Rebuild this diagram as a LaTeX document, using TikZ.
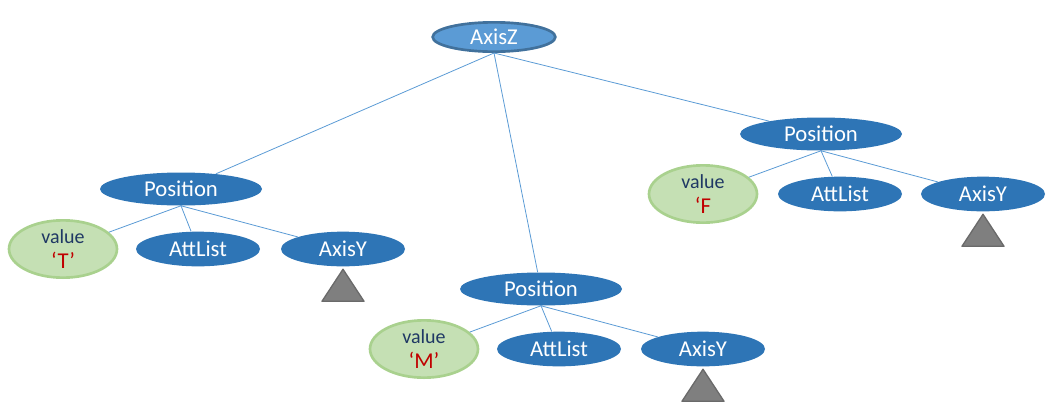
\documentclass[tikz,border=0pt]{standalone}
\usepackage{fontspec}
\setmainfont{Carlito}
\usetikzlibrary{shapes.geometric}
\definecolor{nodeblue}{HTML}{2E75B6}
\definecolor{rootblue}{HTML}{5B9BD5}
\definecolor{rootedge}{HTML}{41719C}
\definecolor{valgreen}{HTML}{C5E0B4}
\definecolor{valedge}{HTML}{A9D18E}
\definecolor{valtext}{HTML}{1F3864}
\definecolor{valred}{HTML}{C00000}
\definecolor{subgray}{HTML}{7F7F7F}
\definecolor{subedge}{HTML}{6A6A6A}
\begin{document}
\begin{tikzpicture}[x=0.75pt, y=-0.75pt,
  tnode/.style={ellipse, fill=nodeblue, text=white, inner sep=0pt,
    font=\fontsize{17}{20}\selectfont},
  root/.style={tnode, fill=rootblue, draw=rootedge, line width=2pt,
    minimum width=92pt, minimum height=22pt},
  posnode/.style={tnode, minimum width=121.5pt, minimum height=24.75pt},
  leaf/.style={tnode, minimum width=93pt, minimum height=26pt},
  valnode/.style={ellipse, fill=valgreen, draw=valedge, line width=2pt,
    inner sep=0pt, align=center, text=valtext,
    font=\fontsize{15}{19}\selectfont,
    minimum width=81pt, minimum height=43pt},
  link/.style={draw=rootblue, line width=0.6pt},
  subtree/.style={fill=subgray, draw=subedge, line width=1pt, line join=round}]
  \useasboundingbox (0,0) rectangle (1053,411);
  \newcommand{\valtxt}[1]{value\\
    {\fontsize{17}{19}\selectfont\color{valred}#1}}

  % Root
  \node[root] (axisz) at (494,37) {AxisZ};

  % Left branch
  \node[posnode] (posl) at (181,189) {Position};
  \node[valnode] (vall) at (63,249) {\valtxt{‘T’}};
  \node[leaf] (attl) at (198,249) {AttList};
  \node[leaf] (ayl) at (343,249) {AxisY};

  % Middle branch
  \node[posnode] (posm) at (541,289) {Position};
  \node[valnode] (valm) at (424,349) {\valtxt{‘M’}};
  \node[leaf] (attm) at (559,349) {AttList};
  \node[leaf] (aym) at (703,349) {AxisY};

  % Right branch
  \node[posnode] (posr) at (821,134) {Position};
  \node[valnode] (valr) at (703,194) {\valtxt{‘F}};
  \node[leaf] (attr) at (840,194) {AttList};
  \node[leaf] (ayr) at (983,194) {AxisY};

  % Links
  \foreach \p in {posl,posm,posr}
    \draw[link] (axisz.south) -- (\p);
  \foreach \p/\a/\b/\c in {posl/vall/attl/ayl, posm/valm/attm/aym, posr/valr/attr/ayr}{
    \draw[link] (\p.south) -- (\a);
    \draw[link] (\p.south) -- (\b);
    \draw[link] (\p.south) -- (\c);
  }

  % Subtrees under AxisY
  \foreach \a in {ayl,aym,ayr}
    \draw[subtree] ([yshift=-2pt]\a.south) -- ++(-21,32) -- ++(42,0) -- cycle;
\end{tikzpicture}
\end{document}
